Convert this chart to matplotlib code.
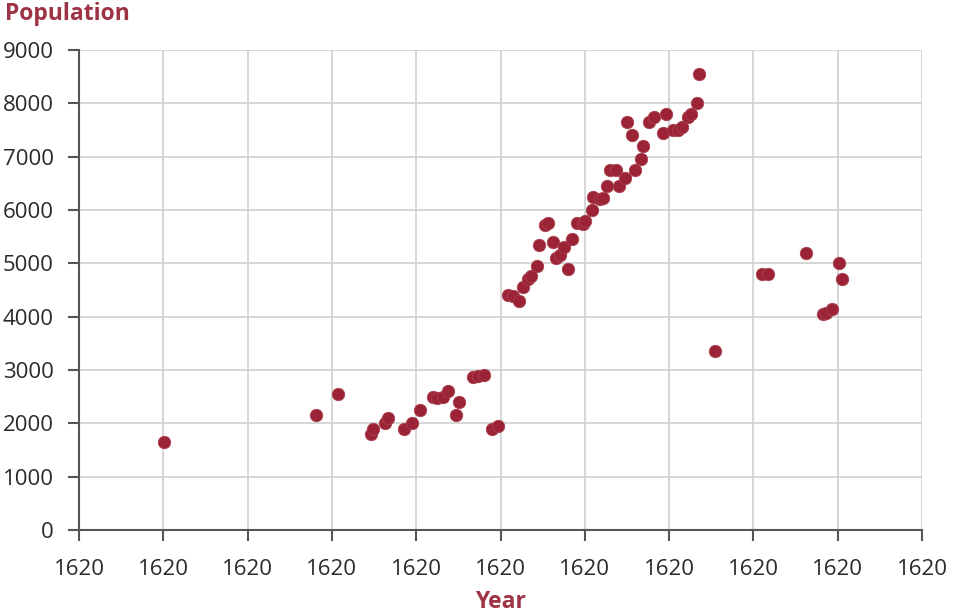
import numpy as np
import matplotlib.pyplot as plt
from matplotlib.ticker import FormatStrFormatter, MultipleLocator

plt.rcParams['font.family'] = ['Open Sans', 'DejaVu Sans']

# year (fractional) and population
year = [1620.0504, 1620.1406, 1620.1536, 1620.1732, 1620.1744, 1620.1815, 1620.1833,
        1620.1928, 1620.1975, 1620.2023, 1620.2100, 1620.2124, 1620.2159, 1620.2189,
        1620.2236, 1620.2254, 1620.2337, 1620.2367, 1620.2402, 1620.2450, 1620.2485,
        1620.2545, 1620.2574, 1620.2610, 1620.2634, 1620.2663, 1620.2681, 1620.2717,
        1620.2729, 1620.2764, 1620.2782, 1620.2812, 1620.2829, 1620.2853, 1620.2877,
        1620.2901, 1620.2924, 1620.2954, 1620.2990, 1620.3001, 1620.3043, 1620.3049,
        1620.3090, 1620.3108, 1620.3132, 1620.3150, 1620.3185, 1620.3203, 1620.3239,
        1620.3251, 1620.3280, 1620.3298, 1620.3334, 1620.3345, 1620.3381, 1620.3411,
        1620.3464, 1620.3482, 1620.3523, 1620.3553, 1620.3577, 1620.3612, 1620.3630,
        1620.3666, 1620.3678, 1620.3772, 1620.4051, 1620.4087, 1620.4312, 1620.4413,
        1620.4431, 1620.4466, 1620.4508, 1620.4526]
population = [1650, 2150, 2550, 1800, 1900, 2000, 2100,
              1900, 2000, 2250, 2500, 2470, 2500, 2600,
              2150, 2400, 2870, 2880, 2900, 1900, 1950,
              4400, 4390, 4300, 4560, 4700, 4760, 4950,
              5350, 5720, 5750, 5400, 5100, 5150, 5300,
              4900, 5450, 5750, 5740, 5800, 6000, 6250,
              6200, 6220, 6450, 6750, 6750, 6450, 6600,
              7650, 7400, 6750, 6950, 7200, 7650, 7750,
              7450, 7800, 7500, 7500, 7550, 7750, 7800,
              8000, 8550, 3350, 4800, 4800, 5200, 4050,
              4070, 4150, 5000, 4700]

red = '#9b2335'
label_red = '#9e3345'

fig = plt.figure(figsize=(9.54, 6.15), dpi=100)
ax = fig.add_axes([0.0828, 0.1382, 0.8837, 0.7805])

ax.scatter(year, population, s=80, color=red, edgecolor='#a8404f', linewidth=0.6, zorder=3)

ax.set_xlim(1620.0, 1620.5)
ax.set_ylim(0, 9000)
ax.xaxis.set_major_locator(MultipleLocator(0.05))
ax.xaxis.set_major_formatter(FormatStrFormatter('%d'))
ax.yaxis.set_major_locator(MultipleLocator(1000))

ax.grid(True, color='#d0d0d0', linewidth=1.2)
ax.set_axisbelow(True)
for s in ['top', 'right']:
    ax.spines[s].set_visible(False)
for s in ['left', 'bottom']:
    ax.spines[s].set_color('#555555')
    ax.spines[s].set_linewidth(1.5)
ax.tick_params(length=8, width=1.5, color='#555555', labelsize=16, labelcolor='#2a2a2a')
ax.tick_params(axis='x', pad=13)
ax.tick_params(axis='y', pad=10)

ax.set_xlabel('Year', fontsize=16.5, fontweight='bold', color=label_red, labelpad=7)
fig.text(0.005, 0.978, 'Population', fontsize=16.5, fontweight='bold', color=label_red,
         ha='left', va='center')

plt.savefig('out.png')
